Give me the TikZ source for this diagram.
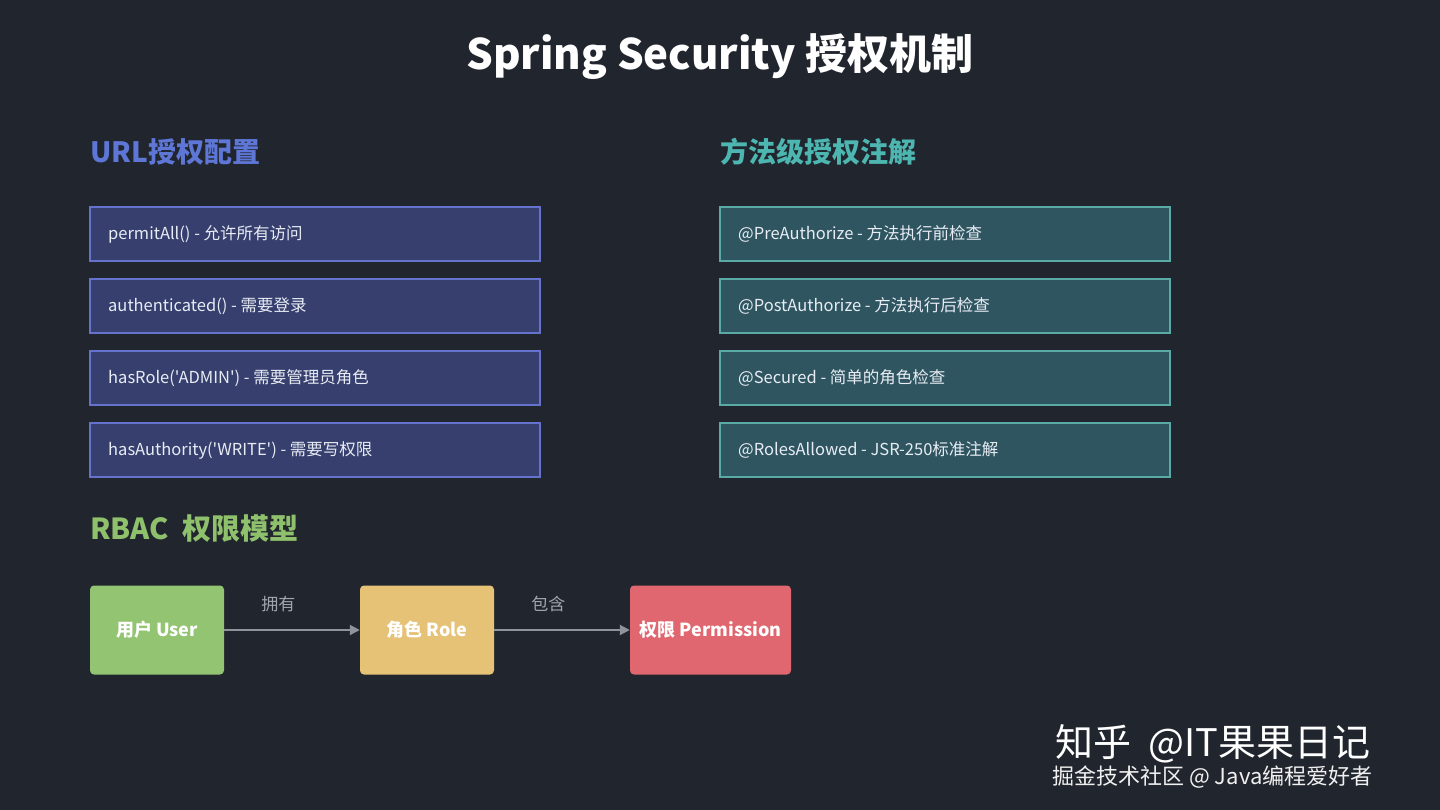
\documentclass[tikz,border=0pt]{standalone}
\usepackage{fontspec}
\setmainfont{Noto Sans CJK SC}[Ligatures=TeXOff]
\usetikzlibrary{arrows.meta}
\definecolor{bgc}{HTML}{21252E}
\definecolor{lfill}{HTML}{363F6D}
\definecolor{ldraw}{HTML}{6673CC}
\definecolor{rfill}{HTML}{2F5660}
\definecolor{rdraw}{HTML}{5AAAA8}
\definecolor{lhead}{HTML}{5E77D6}
\definecolor{rhead}{HTML}{4DB6B0}
\definecolor{ghead}{HTML}{8FC06C}
\definecolor{ucol}{HTML}{92C472}
\definecolor{rcol}{HTML}{E6C277}
\definecolor{pcol}{HTML}{E0676F}
\definecolor{arrc}{HTML}{8E939C}
\definecolor{labc}{HTML}{A0A5AE}
\definecolor{txtc}{HTML}{E8ECF4}
\tikzset{
  sechead/.style={anchor=west, inner sep=0pt, font=\fontsize{28}{32}\selectfont\bfseries},
  lbox/.style={draw=ldraw, fill=lfill, line width=1.5pt, minimum width=450pt, minimum height=54pt, inner sep=0pt},
  rbox/.style={draw=rdraw, fill=rfill, line width=1.5pt, minimum width=450pt, minimum height=54pt, inner sep=0pt},
  boxtxt/.style={anchor=west, inner sep=0pt, text=txtc, font=\fontsize{16.5}{20}\selectfont},
  rbacbox/.style={rounded corners=4pt, minimum height=89pt, inner sep=0pt, text=white, font=\fontsize{18}{22}\selectfont\bfseries},
  conn/.style={draw=arrc, line width=2pt, -{Triangle[length=10pt,width=10pt]}},
  clab/.style={text=labc, font=\fontsize{17}{20}\selectfont, inner sep=0pt}
}
\begin{document}
\begin{tikzpicture}[x=1pt,y=-1pt]
\fill[bgc] (0,0) rectangle (1440,810);
\useasboundingbox (0,0) rectangle (1440,810);
\node[text=white, font=\fontsize{42}{48}\selectfont\bfseries, inner sep=0pt] (title) at (720,57) {Spring Security 授权机制};
\node[sechead, text=lhead] (urlh) at (90,152) {URL授权配置};
\node[sechead, text=rhead] (meth) at (720,152) {方法级授权注解};
\node[sechead, text=ghead, font=\fontsize{29}{32}\selectfont\bfseries] (rbach) at (90,529) {RBAC\ \ 权限模型};
% left boxes
\node[lbox] (l1) at (315,234) {};
\node[lbox] (l2) at (315,306) {};
\node[lbox] (l3) at (315,378) {};
\node[lbox] (l4) at (315,450) {};
\node[boxtxt] (l1t) at (108,234) {permitAll() - 允许所有访问};
\node[boxtxt] (l2t) at (108,306) {authenticated() - 需要登录};
\node[boxtxt] (l3t) at (108,378) {hasRole('ADMIN') - 需要管理员角色};
\node[boxtxt] (l4t) at (108,450) {hasAuthority('WRITE') - 需要写权限};
% right boxes
\node[rbox] (r1) at (945,234) {};
\node[rbox] (r2) at (945,306) {};
\node[rbox] (r3) at (945,378) {};
\node[rbox] (r4) at (945,450) {};
\node[boxtxt] (r1t) at (738,234) {@PreAuthorize - 方法执行前检查};
\node[boxtxt] (r2t) at (738,306) {@PostAuthorize - 方法执行后检查};
\node[boxtxt] (r3t) at (738,378) {@Secured - 简单的角色检查};
\node[boxtxt] (r4t) at (738,450) {@RolesAllowed - JSR-250标准注解};
% RBAC
\node[rbacbox, fill=ucol, minimum width=134pt] (user) at (157,630) {用户 User};
\node[rbacbox, fill=rcol, minimum width=134pt] (role) at (427,630) {角色 Role};
\node[rbacbox, fill=pcol, minimum width=161pt] (perm) at (710.5,630) {权限 Permission};
\draw[conn] (user) -- (role) node[pos=0.4, above=17pt, clab] (own) {拥有};
\draw[conn] (role) -- (perm) node[pos=0.4, above=17pt, clab] (inc) {包含};
% watermark
\node[anchor=west, inner sep=0pt, text=white, font=\fontsize{38}{42}\selectfont] (wm1) at (1055,744) {知乎\ \ @IT果果日记};
\node[anchor=west, inner sep=0pt, text=white!88!gray, font=\fontsize{22}{26}\selectfont] (wm2) at (1052,777) {掘金技术社区 @ Java编程爱好者};
\end{tikzpicture}
\end{document}
